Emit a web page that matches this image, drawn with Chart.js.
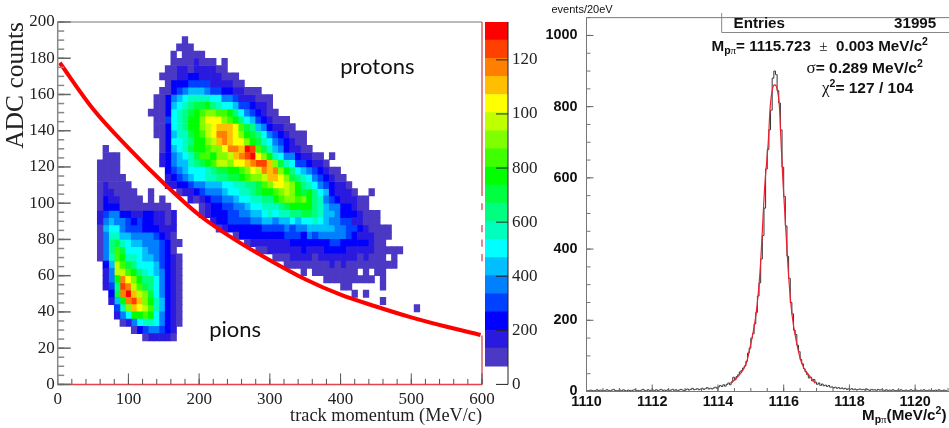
<!DOCTYPE html>
<html lang="en">
<head>
<meta charset="UTF-8">
<title>ADC counts vs track momentum, Mppi peak</title>
<script src="https://cdn.jsdelivr.net/npm/chart.js"></script>
<style>
    html, body { margin: 0; padding: 0; background: #fff; width: 949px; height: 428px; overflow: hidden; }
    canvas { position: absolute; top: 0; }
    #heat { left: 0; }
    #bar { left: 470px; }
    #peak { left: 545px; }
</style>
</head>
<body>
<canvas id="heat" width="500" height="428"></canvas>
<canvas id="bar" width="80" height="428"></canvas>
<canvas id="peak" width="404" height="428"></canvas>
<script>
// bins of the 2D histogram
const momentumBin = 8;
const adcBin = 4;

// colour bar: one colour per level, edges in counts
const levelColors = ['#4b38c4', '#2a1ae0', '#0000ff', '#0040ff', '#0080ff', '#00bfff', '#00ffff', '#00ffbf', '#00ff80', '#00ff40',
    '#00ff00', '#40ff00', '#80ff00', '#c0ff00', '#ffff00', '#ffbf00', '#ff8000', '#ff4000', '#ff0000'];
const levelEdges = [6.7, 13.4, 20.1, 26.8, 33.5, 40.2, 46.9, 53.6, 60.3, 67, 73.7, 80.4, 87.1, 93.8, 100.5, 107.2, 113.9, 120.6, 127.3, 134];
const levelCodes = '123456789abcdefghij';

// [adc bin, first momentum bin, level of each cell] ('.' = empty)
const pionCells = [
    [32, 8, '1'], [31, 8, '111'], [30, 7, '1111'], [29, 7, '1111'], [28, 7, '11111'], [27, 7, '121111'],
    [26, 7, '1221111..1'], [25, 7, '13221111.1.1'], [24, 7, '1333111111111'],
    [23, 7, '24553322332212'], [22, 7, '25655434332212'], [21, 7, '16775444333222'], [20, 7, '15886655554321'],
    [19, 7, '159a87665554311'], [18, 7, '159ca777655431'], [17, 7, '158cb8876654321'],
    [16, 8, '36eca977764321'], [15, 8, '25eecb98765321'], [14, 8, '25bhfdb9975321'], [13, 8, '249iheca975321'],
    [12, 9, '3ahjgeda75321'], [11, 9, '26bhigdb86321'], [10, 10, '48dgfec86321'], [9, 10, '257bbcb75321'],
    [8, 11, '12578875321'], [7, 13, '13455432'], [6, 15, '122221']
];
const protonCells = [
    [47, 22, '1'], [46, 21, '111'], [45, 20, '1.1111'], [44, 20, '11112111.1'], [43, 19, '11221222211'],
    [42, 18, '11122332222111'], [41, 19, '13334444222211'], [40, 18, '113456665443322111'],
    [39, 17, '113567888877554222111'], [38, 17, '1136789aab98776443221'],
    [37, 16, '1113789abcddccb97543211'], [36, 17, '114789bbdfffdcb976432111'],
    [35, 17, '113789bbdefgggfca96532211'], [34, 17, '113688abcefhhgfdba975432111'],
    [33, 18, '137789bbdeghgffdba87543211'], [32, 18, '13678abbcddfhhgjica86532211'],
    [31, 18, '235678accbddeghijfdb875532211.1'], [30, 18, '2356689abceedffghiigda87443221'],
    [29, 19, '345677789aabbcdfehghdb976543211'], [28, 19, '23456778899aabcddeggfda987543211'],
    [27, 19, '2233455666778899acdffedb987543221'], [26, 21, '12234555677889abbcdedbab97632221..1'],
    [25, 23, '212344556778899bcddcdb9854322211'], [24, 25, '123344556778889abbbb9865533211'],
    [23, 25, '123334455667878899aa986653332111'], [22, 27, '233444455665667677876554422111'],
    [21, 28, '1233333344445455666665544321111'], [20, 31, '1333333334443545555543222111'],
    [19, 33, '1222222233333334433333211'], [18, 35, '11222222322233332222211111'],
    [17, 38, '11122221222222212111.1'], [16, 40, '11111111212111111111'],
    [15, 43, '1.11111111.1.11'], [14, 47, '111111111.1'], [13, 50, '11.....1'], [12, 52, '1.1'], [11, 57, '1'], [10, 63, '1']
];

// red separation curve
const curveMomentum = [3, 50, 100, 150, 200, 250, 300, 350, 400, 450, 500, 550, 598];
const curveAdc = [177.5, 152, 130.5, 111, 93.5, 80, 68.5, 58, 49.5, 43, 37, 31.8, 27.3];

// pieces of the faint red line on the right edge, [top, bottom] in adc
const edgePieces = [[200, 104], [100, 96.3], [88, 84], [80, 76], [72, 68], [27, 0]];

const heatXTicks = [0, 100, 200, 300, 400, 500, 600];
const heatYTicks = [0, 20, 40, 60, 80, 100, 120, 140, 160, 180, 200];
const barTicks = [0, 20, 40, 60, 80, 100, 120];
const barLabels = ['0', '200', '400', '600', '800', '100', '120'];
const regionLabels = [['protons', 452, 175], ['pions', 251, 30]];

// invariant mass histogram, first bin starts at 1110, bins of 0.05
const massStart = 1110;
const massBin = 0.05;
const massCounts = [
    3, 2, 4, 3, 1, 3, 5, 2, 4, 3, 2, 3, 5, 3, 2, 4, 6, 3, 2, 3, 4, 2, 5, 3, 1, 4, 3, 2, 4, 5, 3, 3, 2, 4, 6, 3, 2, 5, 3, 4,
    4, 3, 5, 2, 4, 6, 3, 4, 2, 5, 3, 4, 6, 3, 5, 2, 4, 6, 4, 3,
    5, 7, 4, 6, 9, 5, 6, 8, 5, 7, 9, 6, 8, 11, 7, 9, 7, 10, 12, 9,
    13, 17, 14, 19, 15, 20, 24, 19, 27, 40, 33, 42, 47, 55, 59, 66, 72, 85, 108, 122,
    150, 162, 190, 222, 268, 305, 372, 438, 515, 625, 680, 735, 790, 880, 900, 890, 845, 810, 735, 630,
    548, 465, 380, 318, 250, 218, 172, 160, 130, 112, 90, 78, 64, 55, 47, 38, 40, 30, 34, 26,
    20, 24, 17, 21, 16, 18, 14, 17, 12, 13, 10, 12, 9, 11, 8, 10, 7, 9, 6, 8,
    6, 8, 5, 7, 4, 6, 7, 5, 6, 4, 7, 5, 3, 6, 4, 5, 3, 6, 4, 5,
    4, 3, 5, 2, 4, 3, 5, 3, 2, 4, 3, 5, 2, 3, 4, 2, 3, 5, 3, 2, 4, 3, 2, 4, 3, 5, 2, 3, 4, 3, 2, 3, 4, 2, 5, 3, 2, 4, 3, 2
];

// gaussian fit drawn over the peak
const fitMass = [1114.39, 1114.7, 1114.86, 1115, 1115.16, 1115.28, 1115.43, 1115.53, 1115.59, 1115.66, 1115.725, 1115.8, 1115.87, 1115.92, 1115.98, 1116.14, 1116.25, 1116.4, 1116.55, 1116.75, 1116.96];
const fitCounts = [23, 52, 79, 134, 218, 337, 586, 700, 800, 850, 861, 850, 800, 700, 586, 337, 218, 134, 79, 48, 23];

const massXTicks = [1110, 1112, 1114, 1116, 1118, 1120];
const massYTicks = [0, 200, 400, 600, 800, 1000];

function range(a, b, step) {
    const out = [];
    for (let v = a; v <= b + 1e-9; v += step) out.push(v);
    return out;
}

// ticks pointing into the plot, ROOT style, plus frame lines
const insideTicks = {
    id: 'insideTicks',
    afterDraw(chart, args, opts) {
        const ctx = chart.ctx, area = chart.chartArea;
        ctx.save();
        (opts.marks || []).forEach(m => {
            ctx.strokeStyle = m.color;
            ctx.lineWidth = m.width;
            m.values.forEach(v => {
                ctx.beginPath();
                if (m.axis === 'x') {
                    const px = chart.scales.x.getPixelForValue(v);
                    ctx.moveTo(px, area.bottom);
                    ctx.lineTo(px, area.bottom - m.length);
                } else {
                    const py = chart.scales.y.getPixelForValue(v);
                    const from = m.fromRight ? area.right : area.left;
                    ctx.moveTo(from, py);
                    ctx.lineTo(from + (m.fromRight ? -m.length : m.length), py);
                }
                ctx.stroke();
            });
        });
        (opts.lines || []).forEach(l => {
            ctx.strokeStyle = l.color;
            ctx.lineWidth = l.width;
            ctx.beginPath();
            if (l.side === 'top') { ctx.moveTo(area.left, area.top); ctx.lineTo(area.right, area.top); }
            if (l.side === 'bottom') { ctx.moveTo(area.left, area.bottom); ctx.lineTo(area.right, area.bottom); }
            if (l.side === 'left') { ctx.moveTo(area.left, area.top); ctx.lineTo(area.left, area.bottom); }
            if (l.side === 'right') { ctx.moveTo(area.right, area.top); ctx.lineTo(area.right, area.bottom); }
            ctx.stroke();
        });
        ctx.restore();
    }
};

// text lines made of runs with sub/superscripts
const textRuns = {
    id: 'textRuns',
    afterDraw(chart, args, opts) {
        const ctx = chart.ctx;
        ctx.save();
        ctx.fillStyle = '#111';
        ctx.textBaseline = 'alphabetic';
        ctx.textAlign = 'left';
        (opts.lines || []).forEach(line => {
            let x = line.x;
            line.runs.forEach(r => {
                ctx.font = r.font;
                ctx.fillText(r.text, x, line.y + (r.dy || 0));
                x += ctx.measureText(r.text).width;
            });
        });
        (opts.regions || []).forEach(r => {
            ctx.font = '22px Lato';
            ctx.textAlign = 'center';
            ctx.textBaseline = 'middle';
            ctx.fillText(r[0], chart.scales.x.getPixelForValue(r[1]), chart.scales.y.getPixelForValue(r[2]));
        });
        ctx.restore();
    }
};

function levelDatasets() {
    const cells = levelColors.map(() => []);
    pionCells.concat(protonCells).forEach(([row, first, codes]) => {
        codes.split('').forEach((c, k) => {
            if (c === '.') return;
            cells[levelCodes.indexOf(c)].push({
                x: (first + k + 0.5) * momentumBin,
                y: [row * adcBin, (row + 1) * adcBin]
            });
        });
    });
    return cells.map((data, i) => ({
        type: 'bar',
        data: data,
        backgroundColor: levelColors[i],
        grouped: false,
        barPercentage: 1,
        categoryPercentage: 1,
        order: 2
    }));
}

const edgePoints = [];
edgePieces.forEach(p => {
    edgePoints.push({ x: 600, y: p[0] }, { x: 600, y: p[1] }, { x: 600, y: null });
});

const serifTick = { family: '"Liberation Serif"', size: 17 };

new Chart(document.getElementById('heat'), {
    data: {
        datasets: [
            {
                type: 'line',
                data: curveMomentum.map((x, i) => ({ x: x, y: curveAdc[i] })),
                borderColor: '#ff0000',
                borderWidth: 4,
                pointRadius: 0,
                cubicInterpolationMode: 'monotone',
                order: 0,
                clip: false
            },
            {
                type: 'line',
                data: edgePoints,
                borderColor: '#d9636a',
                borderWidth: 1.5,
                pointRadius: 0,
                spanGaps: false,
                order: 1,
                clip: false
            },
            {
                type: 'line',
                data: [{ x: 0, y: 0 }, { x: 600, y: 0 }],
                borderColor: '#e8434a',
                borderWidth: 1.5,
                pointRadius: 0,
                order: 1,
                clip: false
            }
        ].concat(levelDatasets())
    },
    options: {
        responsive: false,
        animation: false,
        devicePixelRatio: 1,
        events: [],
        layout: { padding: { top: 22, right: 18, left: 0, bottom: 0 } },
        plugins: {
            legend: { display: false },
            tooltip: { enabled: false },
            insideTicks: {
                marks: [
                    { axis: 'x', values: range(0, 600, 20), length: 5.5, color: '#555', width: 1 },
                    { axis: 'x', values: heatXTicks, length: 11, color: '#555', width: 1 },
                    { axis: 'y', values: range(0, 200, 5), length: 6.5, color: '#888', width: 1.5 },
                    { axis: 'y', values: heatYTicks, length: 13, color: '#666', width: 1.5 }
                ],
                lines: [
                    { side: 'top', color: '#777', width: 1.2 },
                    { side: 'left', color: '#888', width: 1.5 }
                ]
            },
            textRuns: { regions: regionLabels }
        },
        scales: {
            x: {
                type: 'linear',
                offset: false,
                min: 0,
                max: 600,
                grid: { display: false, drawTicks: false, offset: false },
                border: { display: false },
                afterBuildTicks: s => { s.ticks = heatXTicks.map(v => ({ value: v })); },
                afterFit: s => { s.height = 43.6; },
                ticks: { font: serifTick, color: '#222', padding: 5, maxRotation: 0, autoSkip: false, callback: v => String(v) },
                title: {
                    display: true,
                    text: 'track momentum (MeV/c)',
                    align: 'end',
                    color: '#222',
                    font: { family: '"Liberation Serif"', size: 18.3 },
                    padding: { top: 0, bottom: 1 }
                }
            },
            y: {
                type: 'linear',
                min: 0,
                max: 200,
                grid: { display: false, drawTicks: false },
                border: { display: false },
                afterBuildTicks: s => { s.ticks = heatYTicks.map(v => ({ value: v })); },
                afterFit: s => { s.width = 57.7; },
                ticks: { font: serifTick, color: '#222', padding: 3, autoSkip: false, callback: v => String(v) },
                title: {
                    display: true,
                    text: 'ADC counts',
                    align: 'end',
                    color: '#222',
                    font: { family: '"Liberation Serif"', size: 25.5 },
                    padding: { top: 1, bottom: 0 }
                }
            }
        }
    },
    plugins: [insideTicks, textRuns]
});

new Chart(document.getElementById('bar'), {
    type: 'bar',
    data: {
        labels: ['counts'],
        datasets: levelColors.map((c, i) => ({
            data: [[levelEdges[i], levelEdges[i + 1]]],
            backgroundColor: c,
            grouped: false,
            barPercentage: 1,
            categoryPercentage: 1
        }))
    },
    options: {
        responsive: false,
        animation: false,
        devicePixelRatio: 1,
        events: [],
        layout: { padding: { top: 22, left: 15, right: 0, bottom: 43.6 } },
        plugins: {
            legend: { display: false },
            tooltip: { enabled: false },
            insideTicks: {
                marks: [{ axis: 'y', values: barTicks, length: 12, color: '#222', width: 1, fromRight: true }],
                lines: [{ side: 'right', color: '#222', width: 1 }]
            }
        },
        scales: {
            x: { display: false },
            y: {
                position: 'right',
                min: 0,
                max: 134,
                grid: { display: false, drawTicks: false },
                border: { display: false },
                afterBuildTicks: s => { s.ticks = barTicks.map(v => ({ value: v })); },
                afterFit: s => { s.width = 42; },
                ticks: { font: serifTick, color: '#222', padding: 4, autoSkip: false, callback: (v, i) => barLabels[i] }
            }
        }
    },
    plugins: [insideTicks]
});

const boldSans = s => 'bold ' + s + 'px "Liberation Sans"';
const symbol = s => s + 'px "Liberation Serif"';

new Chart(document.getElementById('peak'), {
    data: {
        datasets: [
            {
                type: 'line',
                data: fitMass.map((x, i) => ({ x: x, y: fitCounts[i] })),
                borderColor: '#ee2030',
                borderWidth: 1.2,
                pointRadius: 0,
                cubicInterpolationMode: 'monotone',
                order: 0
            },
            {
                type: 'line',
                data: massCounts.map((c, i) => ({ x: massStart + (i + 0.5) * massBin, y: c })),
                borderColor: '#333',
                borderWidth: 1,
                pointRadius: 0,
                stepped: 'middle',
                order: 1
            }
        ]
    },
    options: {
        responsive: false,
        animation: false,
        devicePixelRatio: 1,
        events: [],
        layout: { padding: { top: 13, left: 0, right: 0, bottom: 0 } },
        plugins: {
            legend: { display: false },
            tooltip: { enabled: false },
            insideTicks: {
                marks: [
                    { axis: 'x', values: range(1110, 1121, 0.5), length: 3.5, color: '#666', width: 1 },
                    { axis: 'x', values: massXTicks, length: 7, color: '#666', width: 1 },
                    { axis: 'y', values: range(0, 1050, 50), length: 4, color: '#777', width: 1 },
                    { axis: 'y', values: massYTicks, length: 7, color: '#666', width: 1 }
                ],
                lines: [
                    { side: 'top', color: '#777', width: 1 },
                    { side: 'left', color: '#777', width: 1 },
                    { side: 'bottom', color: '#777', width: 1 }
                ]
            },
            textRuns: {
                lines: [
                    { x: 6.5, y: 13, runs: [{ text: 'events/20eV', font: '11px "Liberation Sans"' }] },
                    { x: 188.5, y: 28, runs: [{ text: 'Entries', font: boldSans(15.2) }] },
                    { x: 349, y: 28, runs: [{ text: '31995', font: boldSans(15.2) }] },
                    { x: 166.5, y: 51, runs: [
                        { text: 'M', font: boldSans(15.2) },
                        { text: 'p', font: boldSans(10.5), dy: 3 },
                        { text: 'π', font: symbol(11), dy: 3 },
                        { text: '= 1115.723  ', font: boldSans(15.2) },
                        { text: '±', font: symbol(15) },
                        { text: '  0.003 MeV/c', font: boldSans(15.2) },
                        { text: '2', font: boldSans(10.5), dy: -6 }
                    ] },
                    { x: 261.5, y: 72.5, runs: [
                        { text: 'σ', font: symbol(17) },
                        { text: '= 0.289 MeV/c', font: boldSans(15.5) },
                        { text: '2', font: boldSans(10.5), dy: -6 }
                    ] },
                    { x: 277, y: 92.5, runs: [
                        { text: 'χ', font: symbol(17) },
                        { text: '2', font: boldSans(10.5), dy: -6 },
                        { text: '= 127 / 104', font: boldSans(15.5) }
                    ] },
                    { x: 317, y: 420, runs: [
                        { text: 'M', font: boldSans(15.2) },
                        { text: 'p', font: boldSans(10.5), dy: 3 },
                        { text: 'π', font: symbol(11), dy: 3 },
                        { text: '(MeV/c', font: boldSans(15.2) },
                        { text: '2', font: boldSans(10.5), dy: -6 },
                        { text: ')', font: boldSans(15.2) }
                    ] }
                ]
            }
        },
        scales: {
            x: {
                type: 'linear',
                min: 1110,
                max: 1121.03,
                grid: { display: false, drawTicks: false },
                border: { display: false },
                afterBuildTicks: s => { s.ticks = massXTicks.map(v => ({ value: v })); },
                afterFit: s => { s.height = 36.5; },
                ticks: { font: { family: '"Liberation Sans"', size: 14.4, weight: 'bold' }, color: '#111', padding: 2, maxRotation: 0, autoSkip: false, callback: v => String(v) }
            },
            y: {
                type: 'linear',
                min: 0,
                max: 1050,
                grid: { display: false, drawTicks: false },
                border: { display: false },
                afterBuildTicks: s => { s.ticks = massYTicks.map(v => ({ value: v })); },
                afterFit: s => { s.width = 41.5; },
                ticks: { font: { family: '"Liberation Sans"', size: 14.4, weight: 'bold' }, color: '#111', padding: 9, autoSkip: false, callback: v => String(v) }
            }
        }
    },
    plugins: [
        insideTicks,
        textRuns,
        {
            // statistics box in the top right corner
            id: 'entriesBox',
            afterDraw(chart) {
                const ctx = chart.ctx;
                ctx.save();
                ctx.strokeStyle = '#888';
                ctx.lineWidth = 1;
                ctx.beginPath();
                ctx.moveTo(176.7, 13);
                ctx.lineTo(176.7, 32.5);
                ctx.lineTo(404, 32.5);
                ctx.stroke();
                ctx.restore();
            }
        }
    ]
});
</script>
</body>
</html>
